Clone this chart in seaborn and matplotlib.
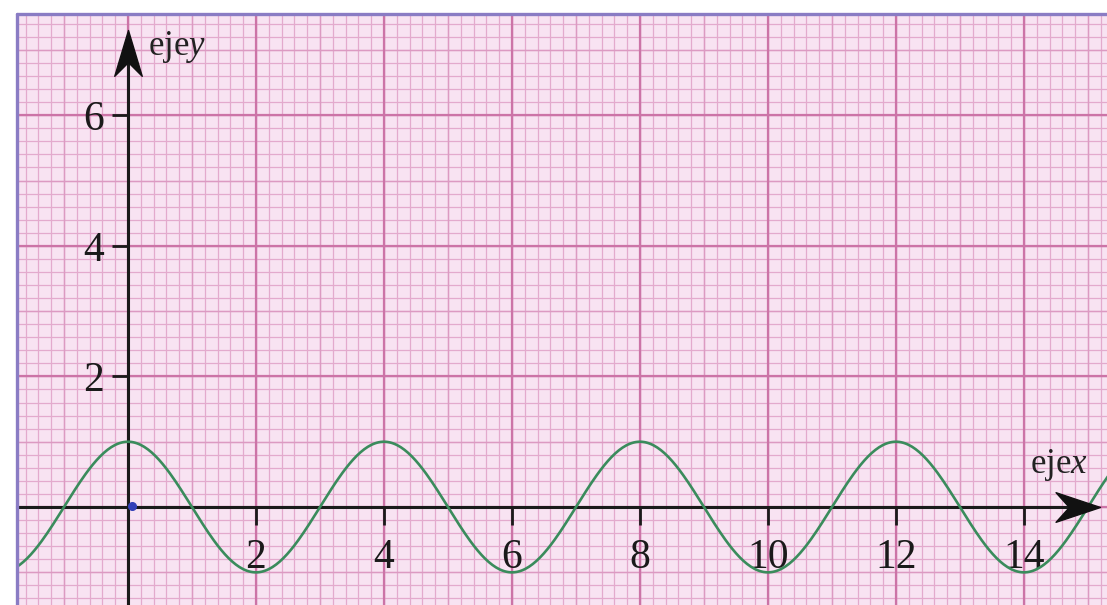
import numpy as np
import pandas as pd
import matplotlib
matplotlib.use("Agg")
import matplotlib.pyplot as plt
import seaborn as sns
from matplotlib.path import Path
from matplotlib.lines import Line2D

# ---- data ----
x_tick_values = [2, 4, 6, 8, 10, 12, 14]
y_tick_values = [2, 4, 6]
amplitude = 1.0          # peaks at y = 1, troughs at y = -1
period = 4.0             # peaks at x = 0, 4, 8, 12
x_start, x_end = -1.75, 15.4
x_label_text = r"eje$\mathit{x}$"
y_label_text = r"eje$\mathit{y}$"

sns.set_style("white")
plt.rcParams["font.family"] = ["Liberation Serif", "DejaVu Serif"]
plt.rcParams["mathtext.fontset"] = "custom"
plt.rcParams["mathtext.rm"] = "Liberation Serif"
plt.rcParams["mathtext.it"] = "Liberation Serif:italic"

xs = np.linspace(x_start, x_end, 600)
df = pd.DataFrame({"x": xs, "y": amplitude * np.cos(2 * np.pi * xs / period)})

W, H = 1107, 605
fig = plt.figure(figsize=(W / 100, H / 100), dpi=100)
fig.patch.set_facecolor("white")
left_px, top_px = 17, 14
ax = fig.add_axes([left_px / W, 0, 1 - left_px / W, (H - top_px) / H])
ax.set_facecolor("#f8e3f2")

xmin, xmax = -1.734, 15.297
ymin, ymax = -1.50, 7.55
ax.set_xlim(xmin, xmax)
ax.set_ylim(ymin, ymax)

# graph-paper grid: fine (0.2), unit (1) and bold (2) lines, drawn under the axes
fine_x = np.round(np.arange(-1.6, 15.4, 0.2), 6)
fine_y = np.round(np.arange(-1.4, 7.6, 0.2), 6)
unit_x = np.arange(-1, 16)
unit_y = np.arange(-1, 8)
bold_x = np.arange(-2, 16, 2)
bold_y = np.arange(-2, 8, 2)
ax.vlines(fine_x, ymin, ymax, color="#e3aacd", linewidth=0.9, zorder=0.2)
ax.hlines(fine_y, xmin, xmax, color="#e3aacd", linewidth=0.9, zorder=0.2)
ax.vlines(unit_x, ymin, ymax, color="#dc9ac2", linewidth=1.0, zorder=0.25)
ax.hlines(unit_y, xmin, xmax, color="#dc9ac2", linewidth=1.0, zorder=0.25)
ax.vlines(bold_x, ymin, ymax, color="#cc74a7", linewidth=1.6, zorder=0.3)
ax.hlines(bold_y, xmin, xmax, color="#cc74a7", linewidth=1.6, zorder=0.3)
ax.set_xlim(xmin, xmax)
ax.set_ylim(ymin, ymax)

# axes through the origin
for s in ["top", "right"]:
    ax.spines[s].set_visible(False)
ax.spines["left"].set_position(("data", 0))
ax.spines["bottom"].set_position(("data", 0))
for s in ["left", "bottom"]:
    ax.spines[s].set_color("#1a1a1a")
    ax.spines[s].set_linewidth(2.2)
    ax.spines[s].set_zorder(3)
x_tip, y_tip = 15.19, 7.3
ax.spines["bottom"].set_bounds(xmin, x_tip - 0.2)
ax.spines["left"].set_bounds(ymin, y_tip - 0.2)

ax.set_xticks(x_tick_values)
ax.set_yticks(y_tick_values)
ax.set_xticklabels([str(v) for v in x_tick_values])
ax.set_yticklabels([str(v) for v in y_tick_values])
ax.tick_params(axis="x", which="major", bottom=True, direction="out", length=13,
               width=2.0, color="#1a1a1a", labelsize=30, pad=10,
               labelcolor="#1a1a1a")
ax.tick_params(axis="y", which="major", left=True, direction="out", length=11.5,
               width=2.0, color="#1a1a1a", labelsize=30, pad=6,
               labelcolor="#1a1a1a")
ax.grid(False)

# curve
sns.lineplot(data=df, x="x", y="y", ax=ax, color="#3a8c5c", linewidth=1.9,
             zorder=4)
ax.set_xlabel("")
ax.set_ylabel("")

# arrowheads (stealth shape)
x_head = Path([(0, 0), (-1.5, 0.5), (-1.05, 0), (-1.5, -0.5), (0, 0)],
              [Path.MOVETO, Path.LINETO, Path.LINETO, Path.LINETO, Path.CLOSEPOLY])
y_head = Path([(0, 0), (0.45, -1.5), (0, -1.05), (-0.45, -1.5), (0, 0)],
              [Path.MOVETO, Path.LINETO, Path.LINETO, Path.LINETO, Path.CLOSEPOLY])
ax.plot([x_tip], [0], marker=x_head, markersize=64, color="#111111", zorder=5,
        clip_on=False)
ax.plot([0], [y_tip], marker=y_head, markersize=66, color="#111111", zorder=5,
        clip_on=False)

# origin dot
ax.plot([0.06], [0.02], "o", color="#3340b8", markersize=5.5, zorder=6)

# axis names
ax.text(14.09, 0.52, x_label_text, fontsize=25, color="#222222", va="baseline",
        ha="left")
ax.text(0.31, 6.92, y_label_text, fontsize=25, color="#222222", va="baseline",
        ha="left")

# purple border (top and left)
border = "#8a7cc4"
fig.add_artist(Line2D([left_px / W, 1], [(H - top_px) / H] * 2, color=border,
                      linewidth=2.4))
fig.add_artist(Line2D([left_px / W] * 2, [0, (H - top_px) / H], color=border,
                      linewidth=2.4))

fig.savefig("out.png", dpi=100)
